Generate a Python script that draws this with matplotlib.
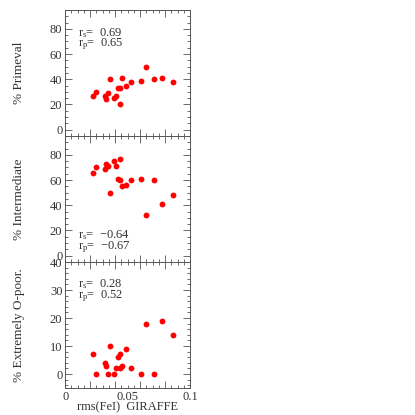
import matplotlib
matplotlib.use('Agg')
import matplotlib.pyplot as plt
from matplotlib.ticker import MultipleLocator, NullFormatter
import matplotlib.transforms as mtransforms

plt.rcParams['font.family'] = ['Liberation Serif', 'DejaVu Serif']
plt.rcParams['mathtext.default'] = 'regular'

# rms(FeI) GIRAFFE for each cluster
rms_fe = [0.0226, 0.0249, 0.0318, 0.0328, 0.0339, 0.0357, 0.0388, 0.0409, 0.0420, 0.0438,
          0.0436, 0.0457, 0.0488, 0.0528, 0.0609, 0.0648, 0.0709, 0.0777, 0.0866]
primeval = [27, 30, 27, 24, 29, 40, 25, 27, 33, 33,
            20, 41, 35, 38, 39, 50, 40, 41, 38]
intermediate = [66, 70, 69, 73, 71, 50, 75, 71, 61, 60,
                77, 55, 56, 60, 61, 32, 60, 41, 48]
extreme = [7, 0, 4, 3, 0, 10, 0, 2, 6, 7,
           2, 3, 9, 2, 0, 18, 0, 19, 14]

ylabels = ['% Primeval', '% Intermediate', '% Extremely O-poor.']
rs = ['0.69', '\u22120.64', '0.28']
rp = ['0.65', '\u22120.67', '0.52']
ylims = [(-5, 95), (-5, 95), (-5, 40)]
ymajor = [20, 20, 10]
yminor = [5, 5, 2]
text_y = [(77, 67.5), (16.5, 6.7), (32.2, 27.7)]
xlabel_vals = [0, 0.05, 0.1]

fig = plt.figure(figsize=(4.15, 4.15), dpi=100)
left, right, top, bottom = 0.157, 0.458, 0.976, 0.065
h = (top - bottom) / 3
txtc = '#333333'
fs = 9

for i, yv in enumerate([primeval, intermediate, extreme]):
    ax = fig.add_axes([left, top - (i + 1) * h, right - left, h])
    ax.plot(rms_fe, yv, 'o', color='red', markersize=4.2, markeredgewidth=0)
    ax.set_xlim(0, 0.1)
    ax.set_ylim(*ylims[i])
    ax.xaxis.set_major_locator(MultipleLocator(0.02))
    ax.xaxis.set_minor_locator(MultipleLocator(0.005))
    ax.xaxis.set_major_formatter(NullFormatter())
    ax.yaxis.set_major_locator(MultipleLocator(ymajor[i]))
    ax.yaxis.set_minor_locator(MultipleLocator(yminor[i]))
    ax.tick_params(which='both', direction='in', top=True, right=True,
                   color='#555555', labelsize=fs, labelcolor=txtc, pad=2)
    ax.tick_params(which='major', length=5, width=0.6)
    ax.tick_params(which='minor', length=2.5, width=0.6)
    for s in ax.spines.values():
        s.set_color('#555555')
        s.set_linewidth(0.7)
    ax.set_ylabel(ylabels[i], fontsize=9.5, color=txtc, labelpad=18)
    ax.text(0.01, text_y[i][0], 'r$_s$=  ' + rs[i], fontsize=fs, color=txtc, va='center')
    ax.text(0.01, text_y[i][1], 'r$_p$=  ' + rp[i], fontsize=fs, color=txtc, va='center')
    if i == 2:
        trans = mtransforms.blended_transform_factory(ax.transData, ax.transAxes)
        for xv in xlabel_vals:
            ax.text(xv, -0.07, f'{xv:g}', transform=trans, ha='center', va='center',
                    fontsize=fs, color=txtc)
        ax.text(0.5, -0.155, 'rms(FeI)  GIRAFFE', transform=ax.transAxes,
                ha='center', va='center', fontsize=fs, color=txtc)

fig.savefig('out.png', dpi=100)
